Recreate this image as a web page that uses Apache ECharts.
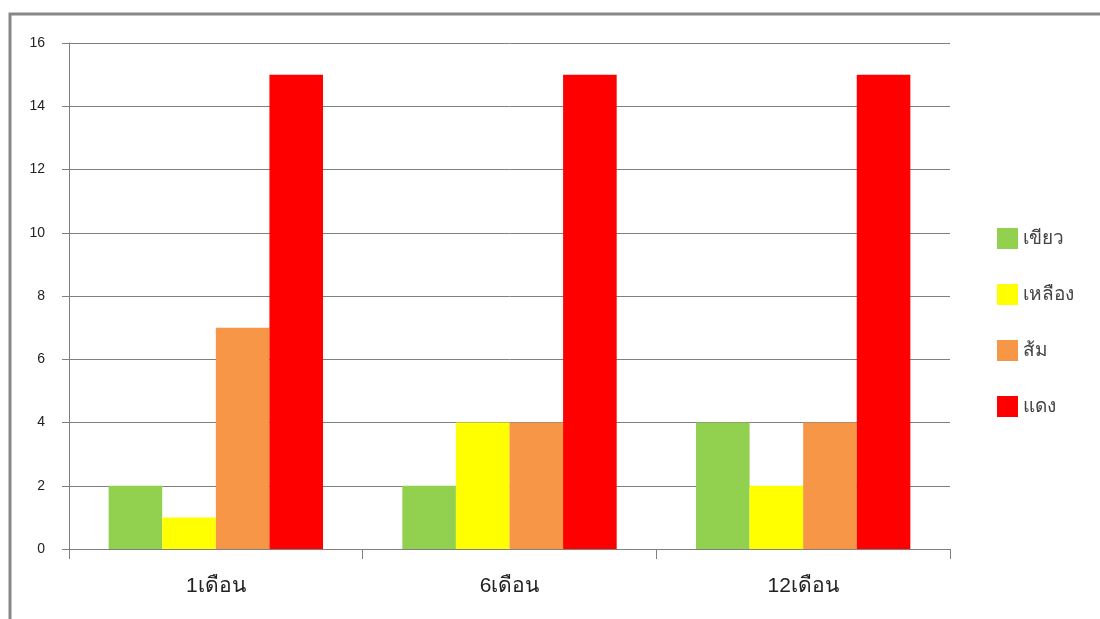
<!DOCTYPE html>
<html>
<head>
<meta charset="utf-8">
<script src="https://cdn.jsdelivr.net/npm/echarts@6/dist/echarts.min.js"></script>
<style>
  html, body { margin: 0; padding: 0; background: #fff; }
  #chart { width: 1100px; height: 619px; }
</style>
</head>
<body>
<div id="chart"></div>
<script>
const categories = ['1เดือน', '6เดือน', '12เดือน'];
const seriesNames = ['เขียว', 'เหลือง', 'ส้ม', 'แดง'];
const greenData = [2, 2, 4];
const yellowData = [1, 4, 2];
const orangeData = [7, 4, 4];
const redData = [15, 15, 15];
const colors = ['#92D050', '#FFFF00', '#F79646', '#FF0000'];

const chart = echarts.init(document.getElementById('chart'), null, { renderer: 'canvas' });

const allData = [greenData, yellowData, orangeData, redData];

chart.setOption({
  animation: false,
  textStyle: { fontFamily: 'Arial, "Liberation Sans", sans-serif' },
  grid: { left: 69, right: 150, top: 43, bottom: 70 },
  legend: {
    orient: 'vertical',
    left: 992,
    top: 223,
    itemWidth: 21,
    itemHeight: 21,
    itemGap: 35,
    icon: 'rect',
    textStyle: { fontSize: 19, color: '#444' },
    data: seriesNames
  },
  xAxis: {
    type: 'category',
    data: categories,
    axisLine: { lineStyle: { color: '#808080' } },
    axisTick: { show: true, length: 10, lineStyle: { color: '#808080' } },
    axisLabel: { fontSize: 21, color: '#222', margin: 27 }
  },
  yAxis: {
    type: 'value',
    min: 0,
    max: 16,
    interval: 2,
    axisLine: { show: true, lineStyle: { color: '#808080' } },
    axisTick: { show: true, inside: false, length: 7, lineStyle: { color: '#808080' } },
    axisLabel: { fontSize: 14, color: '#222', margin: 24 },
    splitLine: { lineStyle: { color: '#808080' } }
  },
  series: seriesNames.map((name, i) => ({
    name: name,
    type: 'bar',
    data: allData[i],
    barGap: '0%',
    barCategoryGap: '27%',
    itemStyle: { color: colors[i] }
  })),
  graphic: [
    {
      type: 'rect',
      shape: { x: 10, y: 14, width: 1200, height: 800 },
      style: { fill: 'none', stroke: '#888', lineWidth: 3 },
      silent: true
    }
  ]
});
</script>
</body>
</html>
